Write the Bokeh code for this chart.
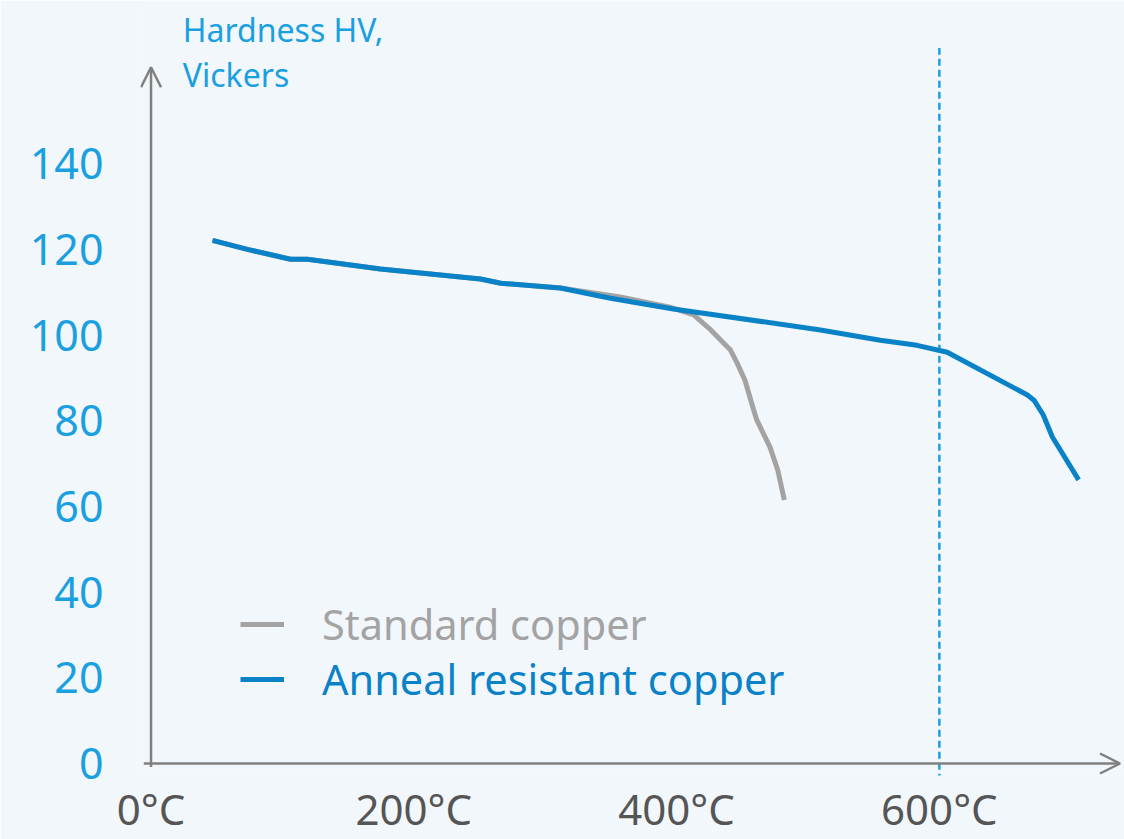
from bokeh.plotting import figure
from bokeh.models import Range1d, FixedTicker, Arrow, OpenHead, Legend, LegendItem, Label
from bokeh.embed import file_html
from bokeh.resources import INLINE

# ---- data ----
temp_standard = [46.8, 73.4, 106.2, 119.1, 174.6, 250.7, 266.3, 311.6, 357, 395, 413, 426,
                 441, 446, 452, 458, 461, 471, 477, 482]
hv_standard = [122.1, 120.0, 117.7, 117.7, 115.4, 113.1, 112.1, 111.0, 108.9, 106.5, 104.7, 101.2,
               96.5, 93.5, 89.5, 83.2, 80.2, 73.9, 68.5, 61.5]

temp_anneal = [46.8, 73.4, 106.2, 119.1, 174.6, 250.7, 266.3, 311.6, 349.7, 397.6, 509.5, 555,
               583, 606, 667, 672, 679, 686, 706]
hv_anneal = [122.1, 120.0, 117.7, 117.7, 115.4, 113.1, 112.1, 111.0, 108.6, 106.1, 101.2, 98.8,
             97.6, 96.0, 86.0, 84.8, 81.4, 76.2, 66.2]

x_ticks = [0, 200, 400, 600]
x_tick_labels = ["0°C", "200°C", "400°C", "600°C"]
y_ticks = [0, 20, 40, 60, 80, 100, 120, 140]
marker_temp = 600
series_names = ["Standard copper", "Anneal resistant copper"]
title_lines = ["Hardness HV,", "Vickers"]

BLUE = "#0a82c8"
LIGHT_BLUE = "#1a9fe0"
GRAY = "#a3a3a3"
AXIS = "#808080"
BG = "#f2f7fb"
FONT = "Noto Sans"

p = figure(width=1124, height=839,
           x_range=Range1d(-8.0, 740.9), y_range=Range1d(-2.80, 178.09),
           output_backend="svg", toolbar_location=None,
           min_border_left=140, min_border_right=0, min_border_top=0, min_border_bottom=63)
p.background_fill_color = BG
p.border_fill_color = BG
p.outline_line_color = None
p.grid.visible = False

# axes: tick labels only
p.xaxis.ticker = FixedTicker(ticks=x_ticks)
p.xaxis.major_label_overrides = {t: l for t, l in zip(x_ticks, x_tick_labels)}
p.yaxis.ticker = FixedTicker(ticks=y_ticks)
for ax in (p.xaxis, p.yaxis):
    ax.axis_line_color = None
    ax.major_tick_line_color = None
    ax.minor_tick_line_color = None
    ax.major_tick_out = 0
    ax.major_tick_in = 0
    ax.major_label_text_font = FONT
p.xaxis.major_label_text_font_size = "42px"
p.yaxis.major_label_text_font_size = "43px"
p.xaxis.major_label_text_color = "#555555"
p.xaxis.major_label_standoff = 4
p.yaxis.major_label_text_color = LIGHT_BLUE
p.yaxis.major_label_standoff = 37

# marker line at 600 °C
p.segment(x0=[marker_temp], y0=[-4], x1=[marker_temp], y1=[167],
          line_color=LIGHT_BLUE, line_width=2.5, line_dash="7 4")

# axis arrows
p.add_layout(Arrow(x_start=0, y_start=-0.8, x_end=0, y_end=162.5,
                   line_color=AXIS, line_width=2.5,
                   end=OpenHead(size=20, line_color=AXIS, line_width=2.5)))
p.add_layout(Arrow(x_start=-5.5, y_start=0, x_end=737.5, y_end=0,
                   line_color=AXIS, line_width=2.5,
                   end=OpenHead(size=20, line_color=AXIS, line_width=2.5)))

r_std = p.line(temp_standard, hv_standard, line_color=GRAY, line_width=5, line_join="round")
r_ann = p.line(temp_anneal, hv_anneal, line_color=BLUE, line_width=5, line_join="round")

# y-axis title
p.add_layout(Label(x=24.2, y=171.4, text=title_lines[0], text_font=FONT, text_font_size="32px",
                   text_color=LIGHT_BLUE, text_baseline="alphabetic"))
p.add_layout(Label(x=24.2, y=160.9, text=title_lines[1], text_font=FONT, text_font_size="32px",
                   text_color=LIGHT_BLUE, text_baseline="alphabetic"))

# legends (one per series so that each label keeps its own colour)
for name, r, col, loc in [(series_names[0], r_std, GRAY, (100, 123)),
                          (series_names[1], r_ann, BLUE, (100, 68))]:
    lg = Legend(items=[LegendItem(label=name, renderers=[r])], location=loc,
                label_text_font=FONT, label_text_font_size="41.5px", label_text_color=col,
                glyph_width=44, glyph_height=20, label_standoff=38, padding=0, margin=0,
                border_line_color=None, background_fill_alpha=0)
    p.add_layout(lg)

open("out.html", "w").write(file_html(p, INLINE))
